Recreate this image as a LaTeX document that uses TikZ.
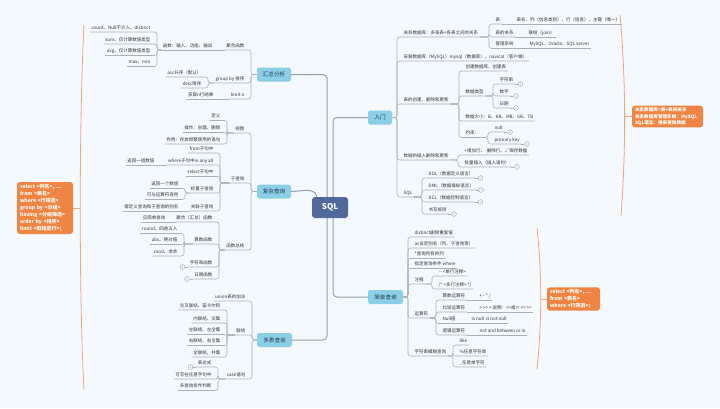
\documentclass[tikz,border=0pt]{standalone}
\usepackage{fontspec}
\setmainfont{Noto Sans CJK SC}
\usetikzlibrary{calc}
\definecolor{bgc}{HTML}{F4F9FD}
\definecolor{brc}{HTML}{8BCFE7}
\definecolor{brt}{HTML}{23384A}
\definecolor{sqlc}{HTML}{51699A}
\definecolor{orc}{HTML}{EF8443}
\definecolor{orl}{HTML}{F2A57A}
\definecolor{lnc}{HTML}{A8B1B8}
\definecolor{mlc}{HTML}{95A0AA}
\definecolor{txc}{HTML}{333333}
\definecolor{mkc}{HTML}{9AA4AC}
\newcommand\myleaf{\fontsize{4.5}{5}\selectfont}
\newcommand\mybr{\fontsize{5.6}{6}\selectfont}
\newcommand\mynote{\fontsize{5}{7}\selectfont\bfseries}
\newcommand\mymk{\fontsize{3}{3}\selectfont}
\tikzset{
  lf/.style={font=\myleaf, text=txc, inner xsep=1.5pt, inner ysep=1.8pt, text height=3.4pt, text depth=0.8pt},
  L/.style={lf, anchor=south east},
  R/.style={lf, anchor=south west},
  brbox/.style={fill=brc, rounded corners=2.5pt, font=\mybr, text=brt, minimum height=14pt, inner xsep=3pt},
  cn/.style={draw=lnc, line width=0.55pt, rounded corners=2.5pt},
  mc/.style={draw=mlc, line width=1pt, rounded corners=4pt},
  mk/.style={circle, draw=mkc, line width=0.4pt, inner sep=0pt, minimum size=4.8pt, font=\mymk, text=mkc, fill=bgc},
  note/.style={fill=orc, rounded corners=3pt, text=white, font=\mynote, align=left, inner xsep=3pt, inner ysep=2pt},
  oc/.style={draw=orl, line width=0.8pt}
}
\newcommand\cnL[2]{\draw[cn] (#1.south west) -| ([xshift=5pt]#2.south east) -- (#2.south west);}
\newcommand\cnR[2]{\draw[cn] (#1.south east) -| ([xshift=-5pt]#2.south west) -- (#2.south east);}
\newcommand\cnLone[2]{\draw[cn] (#1.south west) -- (#2.south west);}
\newcommand\cnRone[2]{\draw[cn] (#1.south east) -- (#2.south east);}
\newcommand\cnLB[2]{\draw[cn] (#1.west) -| ([xshift=5pt]#2.south east) -- (#2.south west);}
\newcommand\cnRB[2]{\draw[cn] (#1.east) -| ([xshift=-5pt]#2.south west) -- (#2.south east);}
\newcommand\mkL[3]{\node[mk, anchor=east] (#2) at ([xshift=-3pt]#1.south west) {#3}; \draw[cn] (#1.south west) -- (#2.east);}
\newcommand\mkR[3]{\node[mk, anchor=west] (#2) at ([xshift=3pt]#1.south east) {#3}; \draw[cn] (#1.south east) -- (#2.west);}
\begin{document}
\begin{tikzpicture}[x=1pt,y=-1pt]
\fill[bgc] (0,0) rectangle (720,408);
\useasboundingbox (0,0) rectangle (720,408);

% central and main branches
\node[fill=sqlc, rounded corners=3pt, text=white, font=\fontsize{8}{8}\selectfont\bfseries, minimum width=36pt, minimum height=21pt] (sql) at (330,207.5) {SQL};
\node[brbox, minimum width=34pt] (hz) at (274,74.5) {汇总分析};
\node[brbox, minimum width=34pt] (fz) at (274,191.5) {复杂查询};
\node[brbox, minimum width=35pt] (dbq) at (274.5,340) {多表查询};
\node[brbox, minimum width=24pt] (rm) at (380,117.5) {入门};
\node[brbox, minimum width=35pt] (jd) at (385.5,297) {简单查询};

\draw[mc] (hz.east) -| ([xshift=-3pt]sql.north);
\draw[mc] (dbq.east) -| ([xshift=-3pt]sql.south);
\draw[mc] (rm.west) -| ([xshift=3pt]sql.north);
\draw[mc] (jd.west) -| ([xshift=3pt]sql.south);
\draw[mc] (fz.east) to[out=0,in=100] ([xshift=5pt]sql.north west);

% ---------- 汇总分析
\node[L] (a1) at (246,50) {聚合函数};
\node[L] (a2) at (246,83) {group by 排序};
\node[L] (a3) at (246,99) {limit n};
\node[L] (a11) at (214,50) {函数：输入、功能、输出};
\node[L] (a111) at (152,32) {count、Null不计入、distinct};
\node[L] (a112) at (152,44) {sum、仅计算数值类型};
\node[L] (a113) at (152,55.5) {avg、仅计算数值类型};
\node[L] (a114) at (152,66.5) {max、min};
\node[L] (a21) at (203,77) {asc升序（默认）};
\node[L] (a22) at (203,88) {desc降序};
\node[L] (a31) at (215,99) {获取n行结果};
\cnLB{hz}{a1} \cnLB{hz}{a2} \cnLB{hz}{a3}
\cnLone{a1}{a11}
\cnL{a11}{a111} \cnL{a11}{a112} \cnL{a11}{a113} \cnL{a11}{a114}
\cnL{a2}{a21} \cnL{a2}{a22}
\cnLone{a3}{a31}

% ---------- 复杂查询
\node[L] (b1) at (246,133) {视图};
\node[L] (b2) at (246,183) {子查询};
\node[L] (b3) at (246,250) {函数总结};
\node[L] (b11) at (222,120.5) {定义};
\node[L] (b12) at (222,132.5) {操作：创建、删除};
\node[L] (b13) at (222,144) {作用：存放频繁使用的语句};
\node[L] (b21) at (215,153) {from子句中};
\node[L] (b22) at (215,165) {where子句中in any all};
\node[L] (b23) at (215,176.5) {select子句中};
\node[L] (b24) at (215,193) {标量子查询};
\node[L] (b25) at (215,211) {关联子查询};
\node[L] (b221) at (156,165) {返回一组数值};
\node[L] (b241) at (180,188.5) {返回一个数值};
\node[L] (b242) at (180,199.5) {可与运算符连用};
\node[L] (b251) at (180,211) {需定义查询和子查询的别名};
\node[L] (b31) at (214,222) {聚合（汇总）函数};
\node[L] (b32) at (214,244) {算数函数};
\node[L] (b33) at (214,267) {字符串函数};
\node[L] (b34) at (214,279) {日期函数};
\node[L] (b311) at (167,222) {见简单查询};
\node[L] (b321) at (179,233.5) {round、四舍五入};
\node[L] (b322) at (179,244.5) {abs、绝对值};
\node[L] (b323) at (179,256) {mod、求余};
\cnLB{fz}{b1} \cnLB{fz}{b2} \cnLB{fz}{b3}
\cnL{b1}{b11} \cnL{b1}{b12} \cnL{b1}{b13}
\cnL{b2}{b21} \cnL{b2}{b22} \cnL{b2}{b23} \cnL{b2}{b24} \cnL{b2}{b25}
\cnLone{b22}{b221}
\cnL{b24}{b241} \cnL{b24}{b242}
\cnLone{b25}{b251}
\cnL{b3}{b31} \cnL{b3}{b32} \cnL{b3}{b33} \cnL{b3}{b34}
\cnLone{b31}{b311}
\cnL{b32}{b321} \cnL{b32}{b322} \cnL{b32}{b323}
\mkL{b33}{m1}{1}
\mkL{b34}{m2}{1}

% ---------- 多表查询
\node[L] (c1) at (247,301) {union表的加法};
\node[L] (c2) at (247,335) {联结};
\node[L] (c3) at (247,379) {case语句};
\node[L] (c21) at (222,310) {交叉联结、笛卡尔积};
\node[L] (c22) at (222,323) {内联结、交集};
\node[L] (c23) at (222,334.5) {左联结、左全集};
\node[L] (c24) at (222,345.5) {右联结、右全集};
\node[L] (c25) at (222,357) {全联结、并集};
\node[L] (c31) at (213,367) {表达式};
\node[L] (c32) at (213,379) {可写在任意字句中};
\node[L] (c33) at (213,390.5) {多查询条件判断};
\cnLB{dbq}{c1} \cnLB{dbq}{c2} \cnLB{dbq}{c3}
\cnL{c2}{c21} \cnL{c2}{c22} \cnL{c2}{c23} \cnL{c2}{c24} \cnL{c2}{c25}
\cnL{c3}{c31} \cnL{c3}{c32} \cnL{c3}{c33}
\mkL{c31}{m3}{1}

% ---------- 入门
\node[R] (d1) at (402,37) {关系数据库：多张表+各表之间的关系};
\node[R] (d2) at (402,61) {安装数据库（MySQL）mysql（数据库），navicat（客户端）};
\node[R] (d3) at (402,104) {表的创建、删除和更新};
\node[R] (d4) at (402,160) {数据的插入删除和更新};
\node[R] (d5) at (402,197) {SQL};
\node[R] (d11) at (494,24) {表};
\node[R] (d12) at (494,37) {表的关系};
\node[R] (d13) at (494,48.5) {管理系统};
\node[R] (d111) at (515,24) {表名、列（信息类别）、行（信息）、主键（唯一）};
\node[R] (d121) at (527,37) {联结（join）};
\node[R] (d131) at (528,48.5) {MySQL、Oracle、SQL server};
\node[R] (d31) at (464,71) {创建数据库、创建表};
\node[R] (d32) at (464,96) {数据类型};
\node[R] (d33) at (464,121) {数据大小：B、KB、MB、GB、TB};
\node[R] (d34) at (464,137.5) {约束：};
\node[R] (d321) at (498,84) {字符串};
\node[R] (d322) at (498,96) {数字};
\node[R] (d323) at (498,108) {日期};
\node[R] (d341) at (493,132) {null};
\node[R] (d342) at (493,144) {primary key};
\node[R] (d41) at (463,155) {+增加行、-删除行、√保存数据};
\node[R] (d42) at (463,167) {批量插入（插入语句）};
\node[R] (d51) at (427,178) {DDL（数据定义语言）};
\node[R] (d52) at (427,190) {DML（数据操纵语言）};
\node[R] (d53) at (427,202) {DCL（数据控制语言）};
\node[R] (d54) at (427,214) {书写规则};
\cnRB{rm}{d1} \cnRB{rm}{d2} \cnRB{rm}{d3} \cnRB{rm}{d4} \cnRB{rm}{d5}
\cnR{d1}{d11} \cnR{d1}{d12} \cnR{d1}{d13}
\cnRone{d11}{d111} \cnRone{d12}{d121} \cnRone{d13}{d131}
\cnR{d3}{d31} \cnR{d3}{d32} \cnR{d3}{d33} \cnR{d3}{d34}
\cnR{d32}{d321} \cnR{d32}{d322} \cnR{d32}{d323}
\cnR{d34}{d341} \cnR{d34}{d342}
\cnR{d4}{d41} \cnR{d4}{d42}
\cnR{d5}{d51} \cnR{d5}{d52} \cnR{d5}{d53} \cnR{d5}{d54}
\mkR{d321}{m4}{1} \mkR{d322}{m5}{1} \mkR{d323}{m6}{1}
\mkR{d341}{m7}{1} \mkR{d342}{m8}{1}
\mkR{d42}{m9}{1}
\mkR{d51}{m10}{1} \mkR{d52}{m11}{1} \mkR{d53}{m12}{1} \mkR{d54}{m13}{1}

% ---------- 简单查询
\node[R] (e1) at (413,237) {distinct删除重复值};
\node[R] (e2) at (413,248) {as设定别名（列、子查询等）};
\node[R] (e3) at (413,258.5) {*查询所有的列};
\node[R] (e4) at (413,268.5) {指定查询条件 where};
\node[R] (e5) at (413,284) {注释};
\node[R] (e6) at (413,318) {运算符};
\node[R] (e7) at (413,356) {字符串模糊查询};
\node[R] (e51) at (437,276) {-{}- <单行注释>};
\node[R] (e52) at (437,289) {/* <多行注释> */};
\node[R] (e61) at (441,300) {算数运算符};
\node[R] (e62) at (441,312) {比较运算符};
\node[R] (e63) at (441,323.5) {Null值};
\node[R] (e64) at (441,335) {逻辑运算符};
\node[R] (e611) at (478,300) {+ - * /};
\node[R] (e621) at (478,312) {> >= < 说明：<>或!= <= >=};
\node[R] (e631) at (470,323.5) {is null\ \ is not null};
\node[R] (e641) at (478,335) {not and between or in};
\node[R] (e71) at (458,345) {like};
\node[R] (e72) at (458,356) {\%任意字符串};
\node[R] (e73) at (458,367) {\_任意单字符};
\cnRB{jd}{e1} \cnRB{jd}{e2} \cnRB{jd}{e3} \cnRB{jd}{e4} \cnRB{jd}{e5} \cnRB{jd}{e6} \cnRB{jd}{e7}
\cnR{e5}{e51} \cnR{e5}{e52}
\cnR{e6}{e61} \cnR{e6}{e62} \cnR{e6}{e63} \cnR{e6}{e64}
\cnRone{e61}{e611} \cnRone{e62}{e621} \cnRone{e63}{e631} \cnRone{e64}{e641}
\cnR{e7}{e71} \cnR{e7}{e72} \cnR{e7}{e73}

% ---------- orange notes
\node[note, text width=50pt, minimum height=52pt] (ln) at (45,208) {select <列名>, …\\from <表名>\\where <行筛选>\\group by <分组>\\having <分组筛选>\\order by <排序>\\limit <取指定行>;};
\node[note, text width=65pt, font=\fontsize{4.6}{6.5}\selectfont\bfseries] (rn1) at (667.5,116.5) {关系数据库=表+表间关系\\关系数据库管理系统：MySQL\\SQL语言：用来查询数据};
\node[note, text width=47pt] (rn2) at (573.5,299) {select <列名>, …\\from <表名>\\where <行筛选>;};

\coordinate (lbt) at (84,25); \coordinate (lbb) at (84,390); \coordinate (lbm) at (80.3,208);
\draw[oc] (lbt) .. controls (79,120) and (79,300) .. (lbb);
\draw[oc] (lbm) -- (ln.east);
\coordinate (rt1) at (620,15); \coordinate (rt2) at (621,216); \coordinate (rtm) at (624.6,116.5);
\draw[oc] (rt1) .. controls (626,80) and (626,150) .. (rt2);
\draw[oc] (rtm) -- (rn1.west);
\coordinate (rb1) at (537,228); \coordinate (rb2) at (537,369); \coordinate (rbm) at (540.7,299);
\draw[oc] (rb1) .. controls (542,275) and (542,320) .. (rb2);
\draw[oc] (rbm) -- (rn2.west);
\end{tikzpicture}
\end{document}
